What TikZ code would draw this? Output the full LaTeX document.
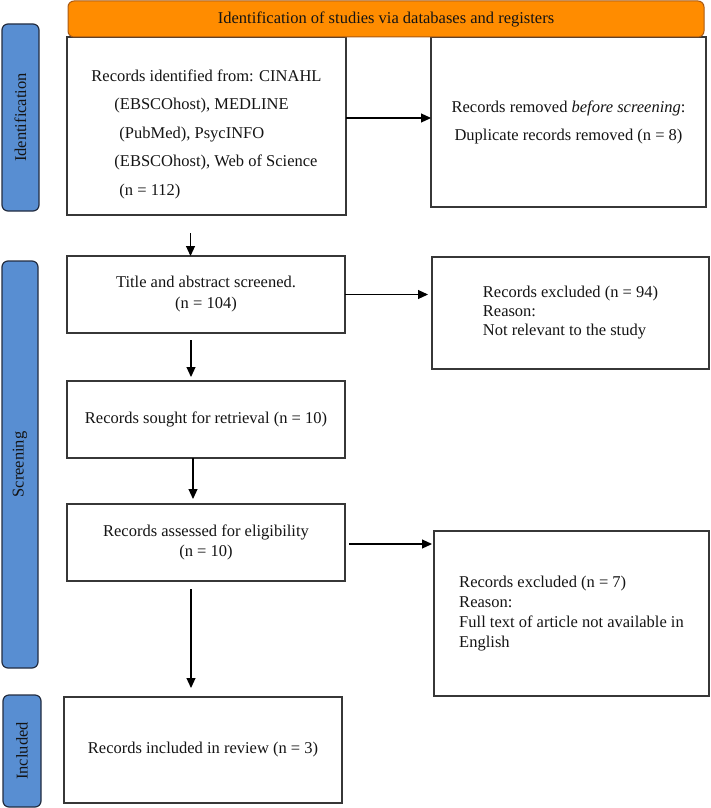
\documentclass[tikz,border=0pt]{standalone}
\usepackage{fontspec}
\setmainfont{Liberation Serif}
\usetikzlibrary{arrows.meta,calc}
\definecolor{hdrfill}{RGB}{255,140,0}
\definecolor{hdrline}{RGB}{170,90,20}
\definecolor{sidefill}{RGB}{88,142,210}
\definecolor{sideline}{RGB}{35,45,65}
\definecolor{boxline}{RGB}{55,55,55}
\definecolor{txt}{RGB}{20,20,20}
\begin{document}
\begin{tikzpicture}[x=1pt,y=-1pt,
  box/.style={draw=boxline,line width=1.3pt,fill=white,inner sep=0pt,outer sep=0pt,anchor=north west,text=txt,
    font=\fontsize{16.5}{20}\selectfont},
  hdr/.style={draw=hdrline,line width=1pt,fill=hdrfill,rounded corners=6pt,inner sep=0pt,outer sep=0pt,anchor=north west,text=txt,
    font=\fontsize{16.5}{20}\selectfont},
  side/.style={draw=sideline,line width=1.2pt,fill=sidefill,rounded corners=6pt,inner sep=0pt,outer sep=0pt,anchor=north west},
  sidetxt/.style={rotate=90,inner sep=0pt,text=txt,font=\fontsize{16.5}{20}\selectfont},
  arr/.style={draw=black,line width=1.1pt,-{Triangle[length=10pt,width=9pt]}}
]
\useasboundingbox (0,0) rectangle (710,808);

% side bars
\node[side,minimum width=37pt,minimum height=187pt] (sideI) at (2,24) {};
\node[sidetxt] (lblI) at (sideI.center) {Identification};
\node[side,minimum width=36pt,minimum height=407pt] (sideS) at (2,261) {};
\node[sidetxt] (lblS) at (sideS.center) {Screening};
\node[side,minimum width=38pt,minimum height=112pt] (sideC) at (3,695) {};
\node[sidetxt] (lblC) at (sideC.center) {Included};

% boxes
\node[box,minimum width=279pt,minimum height=178pt] (box1) at (67,37) {};
\node[align=left,inner sep=0pt,text=txt,font=\fontsize{16.5}{28.5}\selectfont] (box1t) at ($(box1.center)+(0,8)$)
  {Records identified from: CINAHL\\
   \hspace*{23pt}(EBSCOhost), MEDLINE\\
   \hspace*{28pt}(PubMed), PsycINFO\\
   \hspace*{23pt}(EBSCOhost), Web of Science\\
   \hspace*{28pt}(n = 112)};
\node[box,minimum width=275pt,minimum height=170pt,align=center,font=\fontsize{16.5}{28}\selectfont] (box2) at (431,37)
  {Records removed \textit{before screening}:\\Duplicate records removed (n = 8)};

\node[hdr,minimum width=636pt,minimum height=36pt] (hdr) at (68,1) {Identification of studies via databases and registers};

\node[box,minimum width=278pt,minimum height=77pt,align=center,font=\fontsize{16.5}{21}\selectfont] (box3) at (67,256)
  {Title and abstract screened.\\(n = 104)};
\node[box,minimum width=277pt,minimum height=112pt,align=left,font=\fontsize{16.5}{19}\selectfont] (box4) at (432,257)
  {Records excluded (n = 94)\\Reason:\\Not relevant to the study};
\node[box,minimum width=278pt,minimum height=77pt,align=center] (box5) at (67,381)
  {Records sought for retrieval (n = 10)};
\node[box,minimum width=278pt,minimum height=77pt,align=center] (box6) at (67,504)
  {Records assessed for eligibility\\(n = 10)};
\node[box,minimum width=275pt,minimum height=165pt,align=left,font=\fontsize{16.5}{19.7}\selectfont] (box7) at (434,531)
  {Records excluded (n = 7)\\Reason:\\Full text of article not available in\\English};
\node[box,minimum width=278pt,minimum height=106pt,align=center] (box8) at (64,697)
  {Records included in review (n = 3)};

% connectors
\draw[arr] ([yshift=8pt]box1.east) -- ([yshift=8pt]box1.east -| box2.west);
\coordinate (a1) at ($(box1.south)+(-16,18)$);
\draw[arr] (a1) -- (a1 |- box3.north);
\draw[arr,shorten >=4pt] (box3.east) -- (box3.east -| box4.west);
\coordinate (a2) at ($(box3.south)+(-15,7)$);
\draw[arr,shorten >=4pt] (a2) -- (a2 |- box5.north);
\coordinate (a3) at ($(box5.south)+(-13,0)$);
\draw[arr,shorten >=5pt] (a3) -- (a3 |- box6.north);
\draw[arr,shorten <=4pt,shorten >=2pt] ([yshift=-1.5pt]box6.east) -- ([yshift=-1.5pt]box6.east -| box7.west);
\coordinate (a4) at ($(box6.south)+(-15,8)$);
\draw[arr,shorten >=9pt] (a4) -- (a4 |- box8.north);
\end{tikzpicture}
\end{document}
